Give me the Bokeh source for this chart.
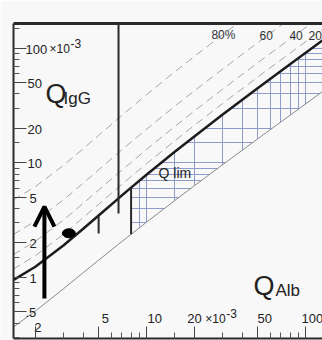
from bokeh.plotting import figure
from bokeh.models import LogAxis, FixedTicker, Range1d, Arrow, OpenHead, ColumnDataSource
from bokeh.embed import file_html
from bokeh.resources import INLINE
from bokeh.core.properties import value

# ---- data (all quotients in units of 10^-3) ----
qalb = [1.45, 2, 3, 4, 5, 6.67, 8, 10, 15, 20, 30, 50, 80, 130]
q_lim = [0.947, 1.241, 1.902, 2.662, 3.478, 4.908, 6.081, 7.875, 12.435, 17.039, 26.293, 44.856, 72.735, 119.22]
q_low = [0.368, 0.508, 0.795, 1.100, 1.415, 1.950, 2.381, 3.033, 4.672, 6.317, 9.611, 16.207, 26.104, 42.603]
q_if20 = [1.18, 1.55, 2.38, 3.33, 4.35, 6.14, 7.60, 9.84, 15.5, 21.3, 32.9, 56.1, 90.9, 149]
q_if40 = [1.58, 2.07, 3.17, 4.44, 5.80, 8.18, 10.1, 13.1, 20.7, 28.4, 43.8, 74.8, 121, 199]
q_if60 = [2.37, 3.10, 4.76, 6.66, 8.70, 12.3, 15.2, 19.7, 31.1, 42.6, 65.7, 112, 182, 298]
q_if80 = [4.74, 6.21, 9.51, 13.3, 17.4, 24.5, 30.4, 39.4, 62.2, 85.2, 131, 224, 364, 596]

age_x = [5, 6.67, 8]
age_top = [3.48, 170, 6.08]
age_bot = [2.42, 3.62, 2.38]

dot_x = [3.25]
dot_y = [2.43]

arrow_x = [2.28]
arrow_y0 = [0.656]
arrow_y1 = [4.15]

x_major = [2, 5, 10, 20, 50, 100]
x_minor = [3, 4, 6, 7, 8, 9, 15, 30, 40, 60, 70, 80, 90]
y_major = [0.5, 1, 2, 5, 10, 20, 50, 100]
y_minor = [0.3, 0.4, 0.6, 0.7, 0.8, 0.9, 1.5, 3, 4, 6, 7, 8, 9, 15, 30, 40, 60, 70, 80, 90, 150]
x_labels = ["2", "5", "10", "20", "50", "100"]
y_labels = [".5", "1", "2", "5", "10", "20", "50", "100"]
if_labels = ["80%", "60", "40", "20"]

# ---- layout / style ----
XMIN, XMAX = 1.457, 128
YMIN, YMAX = 0.293, 165
BG = "#f8f8f8"
INK = "#222222"
FONT = value("Liberation Sans")

p = figure(width=322, height=340, x_axis_type="log", y_axis_type="log",
           x_range=Range1d(XMIN, XMAX), y_range=Range1d(YMIN, YMAX),
           output_backend="svg", toolbar_location=None,
           min_border_left=13, min_border_right=0, min_border_top=23, min_border_bottom=2)
p.background_fill_color = BG
p.border_fill_color = BG
p.outline_line_color = None

for ax, maj, mnr, tin in ((p.xaxis[0], x_major, x_minor, 12), (p.yaxis[0], y_major, y_minor, 13)):
    ax.ticker = FixedTicker(ticks=maj, minor_ticks=mnr)
    ax.major_tick_in = tin
    ax.major_tick_out = 0
    ax.minor_tick_in = 6
    ax.minor_tick_out = 0
    ax.major_tick_line_color = "#444444"
    ax.minor_tick_line_color = "#555555"
    ax.major_label_text_font_size = "0px"
    ax.major_label_text_alpha = 0
    ax.major_label_text_color = None
    ax.major_label_standoff = 0
    ax.axis_line_color = "#2a2a2a"
    ax.axis_line_width = 2

top = LogAxis(ticker=FixedTicker(ticks=[], minor_ticks=[]),
              major_tick_in=0, major_tick_out=0, minor_tick_in=0, minor_tick_out=0,
              major_label_text_font_size="0px", major_label_text_alpha=0,
              major_label_text_color=None, major_label_standoff=0,
              axis_line_color="#2a2a2a", axis_line_width=3)
p.add_layout(top, "above")

# hatch grid (visible only inside the reference area)
p.xgrid.ticker = FixedTicker(ticks=sorted(x_major + x_minor))
p.ygrid.ticker = FixedTicker(ticks=sorted(y_major + y_minor))
p.xgrid.grid_line_color = "#8e9ccc"
p.ygrid.grid_line_color = "#8e9ccc"
p.xgrid.grid_line_width = 1
p.ygrid.grid_line_width = 1

i8 = qalb.index(8)
mask_x = [XMIN, XMIN, qalb[-1]] + qalb[i8:][::-1] + qalb[i8:] + [qalb[-1]]
mask_y = [YMIN, YMAX, YMAX] + q_lim[i8:][::-1] + q_low[i8:] + [YMIN]
p.patch(mask_x, mask_y, fill_color=BG, line_color=None)

# fraction lines
for ys in (q_if20, q_if40, q_if60, q_if80):
    p.line(qalb, ys, line_color="#a6a6a6", line_width=1, line_dash="8 5")

p.line(qalb, q_low, line_color="#8a8a8a", line_width=1)
p.line(qalb, q_lim, line_color="#1c1c1c", line_width=2.5)

p.segment(x0=age_x, y0=age_bot, x1=age_x, y1=age_top, line_color="#2a2a2a", line_width=2)

p.ellipse(x=dot_x, y=dot_y, width=13, height=9, width_units="screen", height_units="screen",
          fill_color="black", line_color="black")

asrc = ColumnDataSource(dict(x0=arrow_x, y0=arrow_y0, x1=arrow_x, y1=arrow_y1))
p.add_layout(Arrow(source=asrc, x_start="x0", y_start="y0", x_end="x1", y_end="y1",
                   line_width=4, line_color="black",
                   end=OpenHead(size=20, line_width=4, line_color="black")))

# y tick labels (inside the frame)
p.text(x=[XMIN] * len(y_major), y=y_major, text=y_labels, text_font=FONT, text_font_size="13px",
       text_color=INK, text_align="left", text_baseline="middle",
       x_offset=[12, 16, 16, 16, 14, 14, 14, 12], y_offset=1)
p.text(x=[XMIN], y=[y_major[-1]], text=["×10"], text_font=FONT, text_font_size="12px",
       text_color=INK, text_align="left", text_baseline="middle", x_offset=36, y_offset=1)
p.text(x=[XMIN], y=[y_major[-1]], text=["-3"], text_font=FONT, text_font_size="12px",
       text_color=INK, text_align="left", text_baseline="middle", x_offset=57, y_offset=-5)

# x tick labels (inside the frame)
p.text(x=x_major, y=[YMIN] * len(x_major), text=x_labels, text_font=FONT, text_font_size="13px",
       text_color=INK, text_align="left", text_baseline="middle",
       x_offset=[-1, 3, 1, -7, 0, -4], y_offset=[-11, -20, -20, -20, -20, -20])
p.text(x=[x_major[3]], y=[YMIN], text=["×10"], text_font=FONT, text_font_size="12px",
       text_color=INK, text_align="left", text_baseline="middle", x_offset=11, y_offset=-20)
p.text(x=[x_major[3]], y=[YMIN], text=["-3"], text_font=FONT, text_font_size="12px",
       text_color=INK, text_align="left", text_baseline="middle", x_offset=32, y_offset=-25)

# fraction labels
p.text(x=[25.6, 51.4, 79.3, 104.5], y=[129.8] * 4, text=if_labels, text_font=FONT,
       text_font_size="12px", text_color="#333333", text_align="left", text_baseline="middle")

# annotations
p.text(x=[11.9], y=[8.09], text=["Q lim"], text_font=FONT, text_font_size="14px",
       text_color=INK, text_align="left", text_baseline="middle")
p.text(x=[2.32], y=[39.7], text=["Q"], text_font=FONT, text_font_size="27px",
       text_color=INK, text_align="left", text_baseline="alphabetic")
p.text(x=[3.01], y=[36.6], text=["IgG"], text_font=FONT, text_font_size="17px",
       text_color=INK, text_align="left", text_baseline="alphabetic")
p.text(x=[47.1], y=[0.834], text=["Q"], text_font=FONT, text_font_size="27px",
       text_color=INK, text_align="left", text_baseline="alphabetic")
p.text(x=[64.7], y=[0.770], text=["Alb"], text_font=FONT, text_font_size="17px",
       text_color=INK, text_align="left", text_baseline="alphabetic")

open("out.html", "w").write(file_html(p, INLINE))
